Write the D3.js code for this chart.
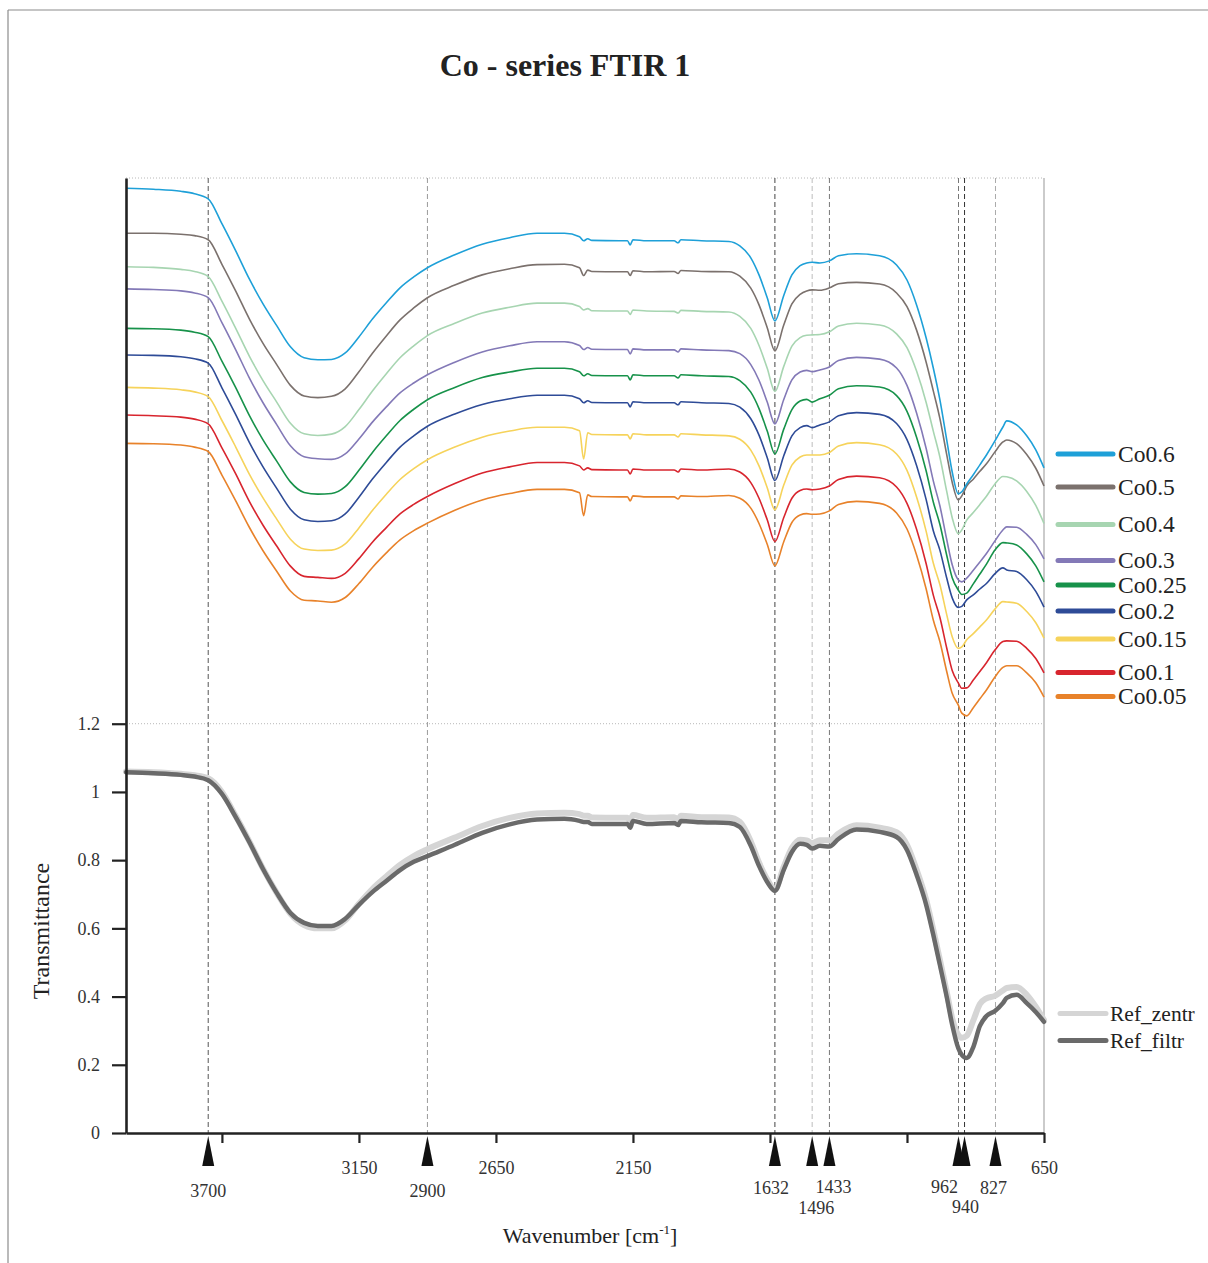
<!DOCTYPE html>
<html>
<head>
<meta charset="utf-8">
<title>Co - series FTIR 1</title>
<script src="https://cdn.jsdelivr.net/npm/d3@7"></script>
<style>
  html, body { margin: 0; padding: 0; background: #ffffff; }
  svg { display: block; font-family: "Liberation Serif", "Times New Roman", "DejaVu Serif", serif; }
</style>
</head>
<body>
<svg id="chart" width="1208" height="1263"></svg>
<script>
// ---- data -------------------------------------------------------------
const wavenumber = [4000, 3900, 3800, 3750, 3700, 3650, 3600, 3550, 3500, 3450,
  3400, 3350, 3300, 3250, 3200, 3150, 3100, 3050, 3000, 2950,
  2900, 2800, 2700, 2600, 2500, 2400, 2345, 2330, 2315, 2300,
  2200, 2170, 2160, 2150, 2100, 2000, 1985, 1975, 1900, 1800,
  1760, 1720, 1690, 1660, 1632, 1600, 1570, 1540, 1516, 1496,
  1468, 1433, 1400, 1334, 1250, 1188, 1150, 1115, 1080, 1054,
  1030, 1005, 985, 963, 950, 932, 908, 884, 860, 829,
  800, 786, 750, 713, 680, 650];

// stacked (offset) transmittance spectra of the Co series
const co06 = [2.770, 2.767, 2.761, 2.754, 2.739, 2.666, 2.587, 2.504, 2.431, 2.367,
  2.305, 2.273, 2.267, 2.268, 2.287, 2.334, 2.387, 2.434, 2.478, 2.510,
  2.537, 2.575, 2.606, 2.625, 2.638, 2.638, 2.628, 2.616, 2.622, 2.617,
  2.616, 2.616, 2.604, 2.619, 2.616, 2.616, 2.610, 2.619, 2.616, 2.614,
  2.601, 2.566, 2.516, 2.449, 2.381, 2.455, 2.516, 2.543, 2.551, 2.553,
  2.551, 2.557, 2.572, 2.578, 2.572, 2.545, 2.501, 2.428, 2.331, 2.243,
  2.150, 2.032, 1.938, 1.874, 1.880, 1.903, 1.930, 1.959, 1.988, 2.029,
  2.070, 2.088, 2.076, 2.044, 2.003, 1.950];
const co05 = [2.638, 2.638, 2.635, 2.631, 2.619, 2.547, 2.469, 2.387, 2.315, 2.253,
  2.192, 2.161, 2.156, 2.160, 2.182, 2.232, 2.287, 2.337, 2.384, 2.419,
  2.449, 2.486, 2.516, 2.534, 2.546, 2.547, 2.537, 2.514, 2.530, 2.526,
  2.525, 2.525, 2.514, 2.528, 2.525, 2.526, 2.520, 2.529, 2.526, 2.525,
  2.512, 2.477, 2.428, 2.361, 2.293, 2.368, 2.431, 2.459, 2.469, 2.472,
  2.471, 2.478, 2.490, 2.494, 2.489, 2.463, 2.423, 2.354, 2.260, 2.176,
  2.095, 1.989, 1.908, 1.856, 1.868, 1.897, 1.917, 1.940, 1.962, 1.997,
  2.026, 2.032, 2.021, 1.989, 1.949, 1.897];
const co04 = [2.540, 2.538, 2.532, 2.526, 2.511, 2.439, 2.360, 2.278, 2.206, 2.143,
  2.081, 2.050, 2.045, 2.049, 2.071, 2.121, 2.176, 2.226, 2.273, 2.308,
  2.338, 2.374, 2.404, 2.421, 2.433, 2.433, 2.423, 2.413, 2.417, 2.411,
  2.410, 2.410, 2.400, 2.413, 2.410, 2.409, 2.404, 2.412, 2.409, 2.407,
  2.394, 2.359, 2.309, 2.242, 2.174, 2.247, 2.307, 2.332, 2.339, 2.340,
  2.341, 2.349, 2.366, 2.374, 2.369, 2.343, 2.303, 2.234, 2.142, 2.058,
  1.982, 1.881, 1.804, 1.757, 1.768, 1.797, 1.819, 1.843, 1.867, 1.903,
  1.925, 1.924, 1.912, 1.881, 1.840, 1.787];
const co03 = [2.475, 2.473, 2.469, 2.463, 2.449, 2.376, 2.297, 2.214, 2.141, 2.077,
  2.015, 1.983, 1.977, 1.975, 1.991, 2.035, 2.085, 2.129, 2.170, 2.199,
  2.223, 2.260, 2.290, 2.308, 2.320, 2.320, 2.309, 2.297, 2.303, 2.298,
  2.297, 2.297, 2.284, 2.299, 2.296, 2.296, 2.290, 2.299, 2.296, 2.294,
  2.285, 2.253, 2.207, 2.143, 2.079, 2.150, 2.208, 2.231, 2.236, 2.232,
  2.237, 2.246, 2.265, 2.274, 2.269, 2.243, 2.192, 2.111, 2.007, 1.912,
  1.839, 1.740, 1.666, 1.622, 1.616, 1.627, 1.650, 1.674, 1.699, 1.736,
  1.768, 1.777, 1.776, 1.755, 1.725, 1.683];
const co025 = [2.359, 2.358, 2.354, 2.348, 2.335, 2.263, 2.186, 2.104, 2.032, 1.970,
  1.909, 1.878, 1.873, 1.875, 1.895, 1.943, 1.996, 2.044, 2.089, 2.122,
  2.150, 2.186, 2.215, 2.231, 2.242, 2.242, 2.232, 2.220, 2.226, 2.221,
  2.220, 2.220, 2.208, 2.223, 2.220, 2.220, 2.214, 2.223, 2.220, 2.218,
  2.206, 2.172, 2.124, 2.058, 1.991, 2.063, 2.121, 2.146, 2.151, 2.143,
  2.153, 2.163, 2.182, 2.191, 2.187, 2.162, 2.116, 2.040, 1.941, 1.850,
  1.785, 1.694, 1.628, 1.592, 1.579, 1.583, 1.610, 1.639, 1.668, 1.709,
  1.731, 1.730, 1.724, 1.698, 1.663, 1.616];
const co02 = [2.281, 2.280, 2.276, 2.270, 2.257, 2.185, 2.107, 2.025, 1.953, 1.890,
  1.829, 1.798, 1.793, 1.795, 1.815, 1.864, 1.918, 1.966, 2.011, 2.044,
  2.072, 2.108, 2.136, 2.153, 2.163, 2.163, 2.153, 2.141, 2.147, 2.142,
  2.141, 2.141, 2.129, 2.144, 2.141, 2.141, 2.135, 2.144, 2.141, 2.139,
  2.128, 2.094, 2.046, 1.980, 1.913, 1.985, 2.044, 2.068, 2.074, 2.068,
  2.076, 2.085, 2.103, 2.112, 2.107, 2.080, 2.033, 1.957, 1.857, 1.766,
  1.709, 1.627, 1.569, 1.541, 1.544, 1.563, 1.578, 1.595, 1.611, 1.640,
  1.657, 1.651, 1.646, 1.622, 1.588, 1.542];
const co015 = [2.186, 2.184, 2.179, 2.173, 2.159, 2.089, 2.012, 1.932, 1.862, 1.800,
  1.741, 1.712, 1.708, 1.709, 1.727, 1.774, 1.826, 1.873, 1.916, 1.948,
  1.974, 2.011, 2.040, 2.058, 2.069, 2.069, 2.059, 1.976, 2.053, 2.048,
  2.047, 2.047, 2.035, 2.050, 2.047, 2.047, 2.041, 2.050, 2.047, 2.044,
  2.034, 2.002, 1.956, 1.892, 1.827, 1.899, 1.958, 1.982, 1.988, 1.988,
  1.988, 1.995, 2.014, 2.024, 2.018, 1.991, 1.943, 1.865, 1.764, 1.671,
  1.608, 1.520, 1.455, 1.421, 1.425, 1.446, 1.464, 1.484, 1.504, 1.536,
  1.558, 1.557, 1.553, 1.529, 1.496, 1.451];
const co01 = [2.105, 2.103, 2.099, 2.093, 2.079, 2.009, 1.933, 1.852, 1.782, 1.721,
  1.662, 1.632, 1.629, 1.626, 1.641, 1.684, 1.733, 1.775, 1.815, 1.843,
  1.866, 1.904, 1.935, 1.953, 1.966, 1.966, 1.956, 1.944, 1.950, 1.945,
  1.944, 1.944, 1.932, 1.947, 1.944, 1.944, 1.938, 1.947, 1.944, 1.947,
  1.938, 1.907, 1.861, 1.798, 1.734, 1.804, 1.861, 1.884, 1.888, 1.886,
  1.888, 1.897, 1.916, 1.926, 1.921, 1.894, 1.846, 1.770, 1.669, 1.577,
  1.512, 1.422, 1.356, 1.320, 1.304, 1.305, 1.328, 1.353, 1.379, 1.416,
  1.441, 1.443, 1.442, 1.421, 1.391, 1.349];
const co005 = [2.022, 2.021, 2.017, 2.011, 1.998, 1.929, 1.854, 1.776, 1.707, 1.647,
  1.589, 1.562, 1.560, 1.556, 1.570, 1.611, 1.659, 1.701, 1.739, 1.766,
  1.788, 1.826, 1.856, 1.875, 1.887, 1.887, 1.877, 1.810, 1.871, 1.866,
  1.865, 1.865, 1.853, 1.868, 1.865, 1.865, 1.859, 1.868, 1.866, 1.869,
  1.861, 1.832, 1.787, 1.726, 1.663, 1.733, 1.790, 1.812, 1.816, 1.814,
  1.815, 1.824, 1.843, 1.852, 1.846, 1.818, 1.771, 1.695, 1.595, 1.504,
  1.441, 1.353, 1.289, 1.255, 1.231, 1.223, 1.247, 1.273, 1.299, 1.337,
  1.365, 1.370, 1.370, 1.349, 1.320, 1.278];

// reference spectra (absolute transmittance)
const refZentr = [1.060, 1.058, 1.053, 1.049, 1.040, 1.000, 0.930, 0.855, 0.775, 0.704,
  0.643, 0.610, 0.600, 0.600, 0.624, 0.672, 0.716, 0.752, 0.786, 0.812,
  0.832, 0.866, 0.900, 0.924, 0.937, 0.939, 0.935, 0.930, 0.930, 0.925,
  0.924, 0.924, 0.915, 0.932, 0.924, 0.926, 0.920, 0.930, 0.926, 0.925,
  0.912, 0.855, 0.793, 0.744, 0.714, 0.780, 0.836, 0.860, 0.858, 0.850,
  0.858, 0.858, 0.878, 0.902, 0.895, 0.882, 0.845, 0.772, 0.684, 0.596,
  0.508, 0.414, 0.336, 0.288, 0.279, 0.285, 0.330, 0.378, 0.395, 0.402,
  0.418, 0.425, 0.428, 0.405, 0.370, 0.331];
const refFiltr = [1.058, 1.055, 1.050, 1.045, 1.034, 0.994, 0.927, 0.853, 0.774, 0.704,
  0.645, 0.616, 0.607, 0.607, 0.628, 0.669, 0.707, 0.739, 0.771, 0.795,
  0.812, 0.845, 0.880, 0.905, 0.919, 0.921, 0.915, 0.912, 0.912, 0.906,
  0.906, 0.906, 0.895, 0.915, 0.906, 0.909, 0.903, 0.915, 0.911, 0.909,
  0.897, 0.842, 0.783, 0.736, 0.710, 0.771, 0.824, 0.848, 0.845, 0.834,
  0.842, 0.840, 0.862, 0.890, 0.883, 0.868, 0.830, 0.757, 0.669, 0.581,
  0.493, 0.399, 0.317, 0.249, 0.229, 0.220, 0.252, 0.314, 0.343, 0.358,
  0.381, 0.396, 0.405, 0.381, 0.355, 0.326];

const seriesNames = ["Co0.6", "Co0.5", "Co0.4", "Co0.3", "Co0.25", "Co0.2", "Co0.15", "Co0.1", "Co0.05"];
const seriesValues = [co06, co05, co04, co03, co025, co02, co015, co01, co005];
const refNames = ["Ref_zentr", "Ref_filtr"];
const refValues = [refZentr, refFiltr];

const peakPositions = [3700, 2900, 1632, 1496, 1433, 962, 940, 827];
const peakLabels = ["3700", "2900", "1632", "1496", "1433", "962", "940", "827"];

const xTickValues = [3650, 3150, 2650, 2150, 1650, 1150, 650];
const xTickLabels = ["", "3150", "2650", "2150", "", "", "650"];
const yTickValues = [0, 0.2, 0.4, 0.6, 0.8, 1, 1.2];
const yTickLabels = ["0", "0.2", "0.4", "0.6", "0.8", "1", "1.2"];

// ---- styling ----------------------------------------------------------
const seriesColors = ["#1ea0d8", "#7b716d", "#a7d5b1", "#8379b7", "#17924a", "#2e4b97", "#f6d35b", "#d8252e", "#e8822a"];
const refColors = ["#d5d5d5", "#6a6a6a"];
const refWidths = [6, 4.5];
const peakLineColor = { 3700: "#555", 2900: "#9a9a9a", 1632: "#444", 1496: "#bdbdbd",
                        1433: "#777", 962: "#777", 940: "#333", 827: "#aaa" };
// label placement under each arrow: [dx, baseline y]
const peakLabelPlace = { 3700: [0, 1197], 2900: [0, 1197], 1632: [-4, 1194], 1496: [4, 1214],
                         1433: [4, 1193], 962: [-14, 1193], 940: [1, 1213], 827: [-2, 1194] };
const legendRowY = [454, 487, 524.5, 560.5, 585, 611, 639, 672.5, 696.5];
const refLegendRowY = [1013.5, 1040.5];

const ink = "#222";

// ---- scales -----------------------------------------------------------
const svg = d3.select("#chart");
const x = d3.scaleLinear().domain([4000, 650]).range([126, 1044]);
const y = d3.scaleLinear().domain([0, 2.8]).range([1133, 178]);

// outer frame
svg.append("line").attr("x1", 8).attr("y1", 10).attr("x2", 1208).attr("y2", 10)
  .attr("stroke", "#8c8c8c").attr("stroke-width", 1.2);
svg.append("line").attr("x1", 8).attr("y1", 10).attr("x2", 8).attr("y2", 1263)
  .attr("stroke", "#8c8c8c").attr("stroke-width", 1.2);

// title
svg.append("text").attr("x", 565).attr("y", 76).attr("text-anchor", "middle")
  .attr("font-size", 32).attr("font-weight", "bold").attr("fill", ink)
  .text("Co - series FTIR 1");

// dotted guides at the top of the plot and at 1.2
[2.8, 1.2].forEach(v => {
  svg.append("line").attr("x1", x(4000)).attr("x2", x(650))
    .attr("y1", y(v)).attr("y2", y(v))
    .attr("stroke", "#b8b8b8").attr("stroke-width", 1).attr("stroke-dasharray", "1,2");
});
// right frame of the plot
svg.append("line").attr("x1", x(650)).attr("x2", x(650)).attr("y1", y(2.8)).attr("y2", y(0))
  .attr("stroke", "#a8a8a8").attr("stroke-width", 1.2);

// dashed band markers
svg.append("g").selectAll("line").data(peakPositions).join("line")
  .attr("x1", d => x(d)).attr("x2", d => x(d))
  .attr("y1", y(2.8)).attr("y2", y(0))
  .attr("stroke", d => peakLineColor[d]).attr("stroke-width", 1)
  .attr("stroke-dasharray", "5,3");

// spectra
const line = d3.line()
  .x((d, i) => x(wavenumber[i]))
  .y(d => y(d))
  .curve(d3.curveMonotoneX);

const refG = svg.append("g");
refValues.forEach((vals, k) => {
  refG.append("path").attr("d", line(vals)).attr("fill", "none")
    .attr("stroke", refColors[k]).attr("stroke-width", refWidths[k])
    .attr("stroke-linejoin", "round").attr("stroke-linecap", "round");
});

const seriesG = svg.append("g");
seriesValues.slice().reverse().forEach((vals, r) => {
  const k = seriesValues.length - 1 - r;
  seriesG.append("path").attr("d", line(vals)).attr("fill", "none")
    .attr("stroke", seriesColors[k]).attr("stroke-width", 1.6)
    .attr("stroke-linejoin", "round");
});

// axes
const xAxis = d3.axisBottom(x).tickValues(xTickValues)
  .tickFormat((d, i) => xTickLabels[i]).tickSize(10).tickSizeOuter(0).tickPadding(18);
const gx = svg.append("g").attr("transform", `translate(0,${y(0)})`).call(xAxis);
gx.select(".domain").attr("stroke", ink).attr("stroke-width", 2.6);
gx.selectAll(".tick line").attr("stroke", ink).attr("stroke-width", 2.2);
gx.selectAll(".tick text").attr("font-size", 18).attr("fill", "#333")
  .attr("font-family", "Liberation Serif, Times New Roman, serif");

const yAxis = d3.axisLeft(y).tickValues(yTickValues)
  .tickFormat((d, i) => yTickLabels[i]).tickSize(14).tickSizeOuter(0).tickPadding(12);
const gy = svg.append("g").attr("transform", `translate(${x(4000)},0)`).call(yAxis);
gy.select(".domain").attr("stroke", ink).attr("stroke-width", 2.6);
gy.selectAll(".tick line").attr("stroke", ink).attr("stroke-width", 2.2);
gy.selectAll(".tick text").attr("font-size", 18).attr("fill", "#333")
  .attr("font-family", "Liberation Serif, Times New Roman, serif");

// band arrows and their wavenumbers
const arrowG = svg.append("g");
peakPositions.forEach((p, i) => {
  const px = x(p);
  arrowG.append("path")
    .attr("d", `M${px},${y(0) + 3}L${px - 6},${y(0) + 33}L${px + 6},${y(0) + 33}Z`)
    .attr("fill", "#111");
  const [dx, by] = peakLabelPlace[p];
  arrowG.append("text").attr("x", px + dx).attr("y", by)
    .attr("text-anchor", "middle").attr("font-size", 18).attr("fill", "#333")
    .text(peakLabels[i]);
});

// axis titles
const xt = svg.append("text").attr("x", 590).attr("y", 1243).attr("text-anchor", "middle")
  .attr("font-size", 22).attr("fill", ink);
xt.append("tspan").text("Wavenumber [cm");
xt.append("tspan").attr("dy", -9).attr("font-size", 13).text("-1");
xt.append("tspan").attr("dy", 9).text("]");

svg.append("text").attr("transform", "translate(49,931) rotate(-90)")
  .attr("text-anchor", "middle").attr("font-size", 24).attr("fill", ink)
  .text("Transmittance");

// legends
const leg = svg.append("g");
seriesNames.forEach((name, k) => {
  const ly = legendRowY[k];
  leg.append("line").attr("x1", 1058).attr("x2", 1113).attr("y1", ly).attr("y2", ly)
    .attr("stroke", seriesColors[k]).attr("stroke-width", 5).attr("stroke-linecap", "round");
  leg.append("text").attr("x", 1118).attr("y", ly).attr("dy", "0.34em")
    .attr("font-size", 23.5).attr("fill", ink).text(name);
});
refNames.forEach((name, k) => {
  const ly = refLegendRowY[k];
  leg.append("line").attr("x1", 1060).attr("x2", 1106).attr("y1", ly).attr("y2", ly)
    .attr("stroke", refColors[k]).attr("stroke-width", 5).attr("stroke-linecap", "round");
  leg.append("text").attr("x", 1110).attr("y", ly).attr("dy", "0.34em")
    .attr("font-size", 21.5).attr("fill", ink).text(name);
});
</script>
</body>
</html>
